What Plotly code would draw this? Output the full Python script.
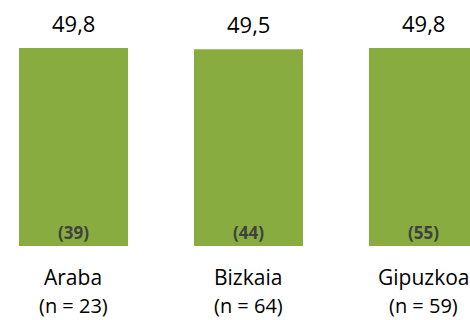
import plotly.graph_objects as go

categories = ["Araba", "Bizkaia", "Gipuzkoa"]
n_labels = ["(n = 23)", "(n = 64)", "(n = 59)"]
values = [49.8, 49.5, 49.8]
value_text = ["49,8", "49,5", "49,8"]
inner_text = ["(39)", "(44)", "(55)"]

BAR_COLOR = "#89AC40"
FONT = "Open Sans"

fig = go.Figure()
fig.add_trace(go.Bar(
    x=list(range(len(categories))),
    y=values,
    marker=dict(color=BAR_COLOR, line=dict(width=0)),
    width=0.623,
    hoverinfo="skip",
))

ann = []
for i, (v, vt, it, c, nl) in enumerate(zip(values, value_text, inner_text, categories, n_labels)):
    ann.append(dict(x=i, y=v, xref="x", yref="y", text=vt, showarrow=False,
                    yanchor="middle", yshift=25, font=dict(family=FONT, size=22, color="#000000")))
    ann.append(dict(x=i, y=0, xref="x", yref="y", text="<b>" + it + "</b>", showarrow=False,
                    yanchor="middle", yshift=14, font=dict(family=FONT, size=17, color="#404040")))
    ann.append(dict(x=i, y=0, xref="x", yref="y", text=c, showarrow=False,
                    yanchor="middle", yshift=-31, font=dict(family=FONT, size=21, color="#000000")))
    ann.append(dict(x=i, y=0, xref="x", yref="paper", text=nl, showarrow=False,
                    yanchor="bottom", yshift=-74, borderpad=0,
                    font=dict(family=FONT, size=20, color="#000000")))

fig.update_layout(
    width=470, height=320,
    margin=dict(l=0, r=0, t=0, b=74),
    paper_bgcolor="white", plot_bgcolor="white",
    showlegend=False,
    annotations=ann,
    xaxis=dict(range=[-0.42, 2.266], visible=False, fixedrange=True),
    yaxis=dict(range=[0, 61.87], visible=False, fixedrange=True),
)

fig.write_html("out.html", config={"displayModeBar": False, "staticPlot": True},
               post_script="document.body.style.margin='0';document.body.style.overflow='hidden';")
